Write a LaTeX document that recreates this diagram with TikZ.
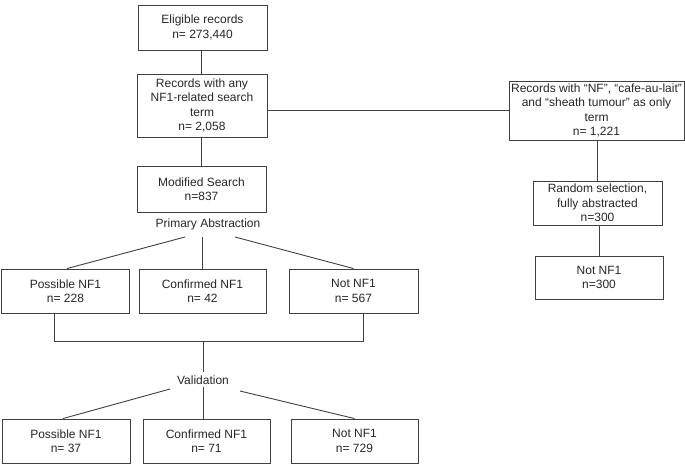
\documentclass[tikz,border=0pt]{standalone}
\usepackage{fontspec}
\setmainfont{Liberation Sans}
\begin{document}
\begin{tikzpicture}[x=1pt,y=-1pt,
  box/.style={draw=black!75, line width=0.9pt, rectangle, inner sep=0pt, align=center,
    font=\fontsize{12}{14.3}\selectfont, text=black!85},
  lbl/.style={inner sep=0pt, font=\fontsize{12}{14.3}\selectfont, text=black!85},
  conn/.style={draw=black!75, line width=0.9pt}]
\useasboundingbox (0,0) rectangle (685,464);
\node[box, minimum width=129pt, minimum height=45pt] (elig) at (202.5,27.5) {Eligible records\\n= 273,440};
\node[box, minimum width=130pt, minimum height=63pt] (rec) at (202,105.5) {Records with any\\NF1-related search\\term\\n= 2,058};
\node[box, minimum width=129pt, minimum height=46pt] (mod) at (201.5,189) {Modified Search\\n=837};
\node[lbl] (prim) at (208,224) {Primary Abstraction};
\node[box, minimum width=128pt, minimum height=44pt] (p1) at (65.5,291) {Possible NF1\\n= 228};
\node[box, minimum width=127pt, minimum height=44pt] (c1) at (202.5,291) {Confirmed NF1\\n= 42};
\node[box, minimum width=129pt, minimum height=44pt] (n1) at (353.5,291) {Not NF1\\n= 567};
\node[lbl] (valid) at (203,380) {Validation};
\node[box, minimum width=128pt, minimum height=44pt] (p2) at (66,441) {Possible NF1\\n= 37};
\node[box, minimum width=127pt, minimum height=44pt] (c2) at (206.5,441) {Confirmed NF1\\n= 71};
\node[box, minimum width=127pt, minimum height=44pt] (n2) at (354.5,441) {Not NF1\\n= 729};
\node[box, minimum width=175pt, minimum height=59pt] (right) at (596.5,110.5) {Records with “NF”, “cafe-au-lait”\\and “sheath tumour” as only\\term\\n= 1,221};
\node[box, minimum width=129pt, minimum height=44pt] (rand) at (597.5,203) {Random selection,\\fully abstracted\\n=300};
\node[box, minimum width=128pt, minimum height=43pt] (notr) at (599,277.5) {Not NF1\\n=300};
% coordinates
\coordinate (pal) at (185,237);
\coordinate (pam) at (202,237);
\coordinate (par) at (235,237);
\coordinate (brl) at (54,341);
\coordinate (brr) at (363,341);
\coordinate (brm) at (203,341);
\coordinate (vtop) at (203,372);
\coordinate (val) at (170,389);
\coordinate (vam) at (203,387);
\coordinate (var) at (240,391);
% connectors
\draw[conn] (elig.south -| 201,0) -- (rec.north -| 201,0);
\draw[conn] (rec.south -| 201,0) -- (mod.north -| 201,0);
\draw[conn] (rec.east |- 0,110) -- (right.west |- 0,110);
\draw[conn] (right.south -| 597,0) -- (rand.north -| 597,0);
\draw[conn] (rand.south -| 599,0) -- (notr.north -| 599,0);
\draw[conn] (pal) -- (p1.north -| 67,0);
\draw[conn] (pam) -- (c1.north -| pam);
\draw[conn] (par) -- (n1.north);
\draw[conn] (p1.south -| brl) -- (brl) -- (brr) -- (n1.south -| brr);
\draw[conn] (brm) -- (vtop);
\draw[conn] (val) -- (p2.north -| 63,0);
\draw[conn] (vam) -- (c2.north -| vam);
\draw[conn] (var) -- (n2.north);
\end{tikzpicture}
\end{document}
